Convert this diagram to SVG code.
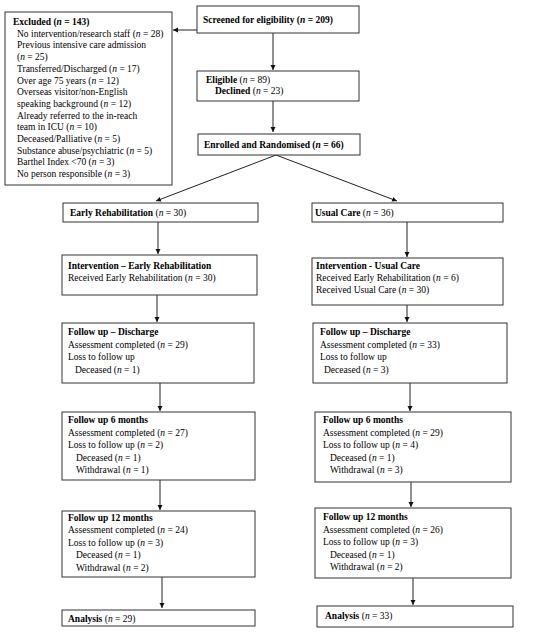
<svg xmlns="http://www.w3.org/2000/svg" width="539" height="632" viewBox="0 0 539 632">
<style>
.b{fill:#fff;stroke:#333;stroke-width:1}
text{font-family:"Liberation Serif","Times New Roman",serif;font-size:9.5px;fill:#000}
.h{font-weight:bold}
.i{font-style:italic}
.n{font-weight:normal}
.c{stroke:#222;stroke-width:1;fill:none;marker-end:url(#ah)}
</style>
<defs>
<marker id="ah" markerWidth="6" markerHeight="6" refX="5" refY="3" orient="auto" markerUnits="userSpaceOnUse">
<path d="M0,0.5 L5,3 L0,5.5 Z" fill="#111"/>
</marker>
</defs>
<g id="connectors">
<line class="c" x1="197" y1="30" x2="173" y2="30"/>
<line class="c" x1="273" y1="33" x2="273" y2="70"/>
<line class="c" x1="273" y1="101" x2="273" y2="132"/>
<line class="c" x1="276" y1="155" x2="156" y2="201"/>
<line class="c" x1="276" y1="155" x2="397" y2="201"/>
<line class="c" x1="158" y1="222" x2="158" y2="254"/>
<line class="c" x1="407" y1="222" x2="407" y2="257"/>
<line class="c" x1="157" y1="295" x2="157" y2="322"/>
<line class="c" x1="407" y1="305" x2="407" y2="322"/>
<line class="c" x1="160" y1="383" x2="160" y2="411"/>
<line class="c" x1="410" y1="383" x2="410" y2="411"/>
<line class="c" x1="160" y1="480" x2="160" y2="510"/>
<line class="c" x1="411" y1="482" x2="411" y2="507"/>
<line class="c" x1="162" y1="577" x2="162" y2="608"/>
<line class="c" x1="413" y1="578" x2="413" y2="605"/>
</g>
<g id="excluded">
<rect class="b" x="5" y="12" width="167" height="173"/>
<text x="13" y="25" class="h">Excluded (<tspan class="i">n</tspan> = 143)</text>
<text x="17" y="36.7">No intervention/research staff (<tspan class="i">n</tspan> = 28)</text>
<text x="17" y="48.4">Previous intensive care admission</text>
<text x="17" y="60.1">(<tspan class="i">n</tspan> = 25)</text>
<text x="17" y="71.8">Transferred/Discharged (<tspan class="i">n</tspan> = 17)</text>
<text x="17" y="83.5">Over age 75 years (<tspan class="i">n</tspan> = 12)</text>
<text x="17" y="95.2">Overseas visitor/non-English</text>
<text x="17" y="106.9">speaking background (<tspan class="i">n</tspan> = 12)</text>
<text x="17" y="118.6">Already referred to the in-reach</text>
<text x="17" y="130.3">team in ICU (<tspan class="i">n</tspan> = 10)</text>
<text x="17" y="142">Deceased/Palliative (<tspan class="i">n</tspan> = 5)</text>
<text x="17" y="153.7">Substance abuse/psychiatric (<tspan class="i">n</tspan> = 5)</text>
<text x="17" y="165.4">Barthel Index &lt;70 (<tspan class="i">n</tspan> = 3)</text>
<text x="17" y="177.1">No person responsible (<tspan class="i">n</tspan> = 3)</text>
</g>
<g id="screened">
<rect class="b" x="197" y="6" width="162" height="27"/>
<text x="203" y="23" class="h">Screened for eligibility (<tspan class="i">n</tspan> = 209)</text>
</g>
<g id="eligible">
<rect class="b" x="197" y="71" width="162" height="30"/>
<text x="206" y="83" class="h">Eligible <tspan class="n">(<tspan class="i">n</tspan> = 89)</tspan></text>
<text x="215" y="94" class="h">Declined <tspan class="n">(<tspan class="i">n</tspan> = 23)</tspan></text>
</g>
<g id="enrolled">
<rect class="b" x="198" y="134" width="162" height="21"/>
<text x="204" y="148" class="h">Enrolled and Randomised (<tspan class="i">n</tspan> = 66)</text>
</g>
<g id="early-rehab">
<rect class="b" x="63" y="203" width="195" height="19"/>
<text x="70" y="216" class="h">Early Rehabilitation <tspan class="n">(<tspan class="i">n</tspan> = 30)</tspan></text>
</g>
<g id="usual-care">
<rect class="b" x="312" y="203" width="191" height="19"/>
<text x="315" y="216" class="h">Usual Care <tspan class="n">(<tspan class="i">n</tspan> = 36)</tspan></text>
</g>
<g id="intervention-er">
<rect class="b" x="62" y="255" width="195" height="40"/>
<text x="68" y="269" class="h">Intervention – Early Rehabilitation</text>
<text x="68" y="281">Received Early Rehabilitation (<tspan class="i">n</tspan> = 30)</text>
</g>
<g id="intervention-uc">
<rect class="b" x="312" y="258" width="191" height="47"/>
<text x="316" y="269" class="h">Intervention - Usual Care</text>
<text x="316" y="281">Received Early Rehabilitation (<tspan class="i">n</tspan> = 6)</text>
<text x="316" y="292.5">Received Usual Care (<tspan class="i">n</tspan> = 30)</text>
</g>
<g id="fu-discharge-er">
<rect class="b" x="62" y="323" width="192" height="60"/>
<text x="68" y="335" class="h">Follow up – Discharge</text>
<text x="68" y="347.5">Assessment completed (<tspan class="i">n</tspan> = 29)</text>
<text x="68" y="360">Loss to follow up</text>
<text x="75" y="372.5">Deceased (<tspan class="i">n</tspan> = 1)</text>
</g>
<g id="fu-discharge-uc">
<rect class="b" x="313" y="323" width="194" height="60"/>
<text x="320" y="335" class="h">Follow up – Discharge</text>
<text x="320" y="347.5">Assessment completed (<tspan class="i">n</tspan> = 33)</text>
<text x="320" y="360">Loss to follow up</text>
<text x="324" y="372.5">Deceased (<tspan class="i">n</tspan> = 3)</text>
</g>
<g id="fu6-er">
<rect class="b" x="62" y="412" width="193" height="68"/>
<text x="68" y="423" class="h">Follow up 6 months</text>
<text x="68" y="435.5">Assessment completed (<tspan class="i">n</tspan> = 27)</text>
<text x="68" y="448">Loss to follow up (<tspan class="i">n</tspan> = 2)</text>
<text x="76" y="460.5">Deceased (<tspan class="i">n</tspan> = 1)</text>
<text x="76" y="473">Withdrawal (<tspan class="i">n</tspan> = 1)</text>
</g>
<g id="fu6-uc">
<rect class="b" x="315" y="412" width="196" height="70"/>
<text x="323" y="423" class="h">Follow up 6 months</text>
<text x="323" y="435.5">Assessment completed (<tspan class="i">n</tspan> = 29)</text>
<text x="323" y="448">Loss to follow up (<tspan class="i">n</tspan> = 4)</text>
<text x="330" y="460.5">Deceased (<tspan class="i">n</tspan> = 1)</text>
<text x="330" y="473">Withdrawal (<tspan class="i">n</tspan> = 3)</text>
</g>
<g id="fu12-er">
<rect class="b" x="62" y="511" width="193" height="66"/>
<text x="68" y="520.5" class="h">Follow up 12 months</text>
<text x="68" y="533">Assessment completed (<tspan class="i">n</tspan> = 24)</text>
<text x="68" y="545.5">Loss to follow up (<tspan class="i">n</tspan> = 3)</text>
<text x="76" y="558">Deceased (<tspan class="i">n</tspan> = 1)</text>
<text x="76" y="570.5">Withdrawal (<tspan class="i">n</tspan> = 2)</text>
</g>
<g id="fu12-uc">
<rect class="b" x="315" y="508" width="196" height="70"/>
<text x="323" y="520" class="h">Follow up 12 months</text>
<text x="323" y="532.5">Assessment completed (<tspan class="i">n</tspan> = 26)</text>
<text x="323" y="545">Loss to follow up (<tspan class="i">n</tspan> = 3)</text>
<text x="330" y="557.5">Deceased (<tspan class="i">n</tspan> = 1)</text>
<text x="330" y="570">Withdrawal (<tspan class="i">n</tspan> = 2)</text>
</g>
<g id="analysis-er">
<rect class="b" x="62" y="610" width="193" height="16"/>
<text x="68" y="621.5" class="h">Analysis <tspan class="n">(<tspan class="i">n</tspan> = 29)</tspan></text>
</g>
<g id="analysis-uc">
<rect class="b" x="317" y="606" width="196" height="21"/>
<text x="325" y="619" class="h">Analysis <tspan class="n">(<tspan class="i">n</tspan> = 33)</tspan></text>
</g>
</svg>
